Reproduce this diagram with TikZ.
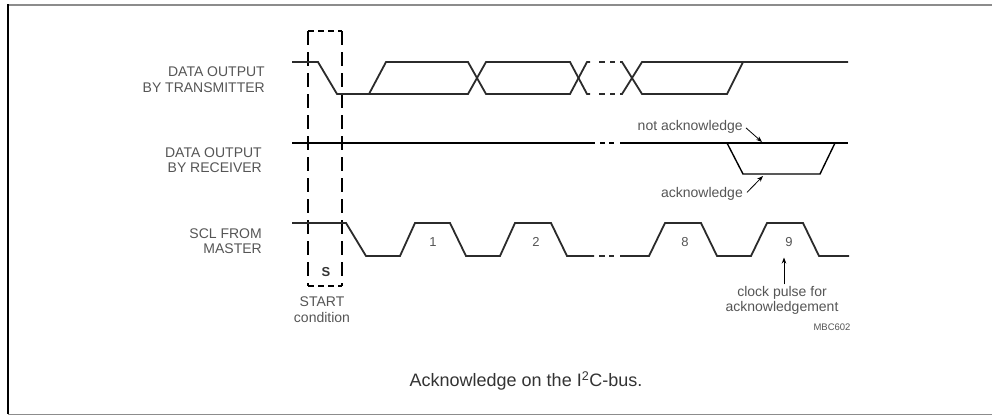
\documentclass[tikz,border=0pt]{standalone}
\usepackage{fontspec}
\setmainfont{Liberation Sans}
\usetikzlibrary{arrows.meta}
\definecolor{wave}{HTML}{2B2B2B}
\definecolor{lbl}{HTML}{555555}
\definecolor{captxt}{HTML}{333333}
\begin{document}
\begin{tikzpicture}[x=1pt,y=-1pt,
  wv/.style={line width=1.8pt, draw=wave, line join=miter},
  rx/.style={line width=1.4pt, draw=black, line join=miter},
  lab/.style={font=\fontsize{14}{16}\selectfont, text=lbl, inner sep=0pt},
  num/.style={font=\fontsize{13}{15}\selectfont, text=lbl, inner sep=0pt, anchor=base},
  ptr/.style={line width=0.8pt, draw=black, -{Stealth[length=6pt,width=4.5pt]}},
  sbox/.style={line width=1.2pt, draw=black}
]
\useasboundingbox (0,0) rectangle (992,415);
% frame
\draw[line width=2.4pt, draw=black!45] (8,5) -- (992,5);
\draw[line width=0.8pt, draw=black!45] (8,414) -- (992,414);
\draw[line width=1.6pt, draw=black] (8,4) -- (8,414);

% signal labels
\node[lab, anchor=base east] (tx1) at (265,76.7) {DATA OUTPUT};
\node[lab, anchor=base east] (tx2) at (265,92) {BY TRANSMITTER};
\node[lab, anchor=base east] (rx1) at (262,157) {DATA OUTPUT};
\node[lab, anchor=base east] (rx2) at (262,172) {BY RECEIVER};
\node[lab, anchor=base east] (scl1) at (262,238.3) {SCL FROM};
\node[lab, anchor=base east] (scl2) at (262,253.3) {MASTER};

% START box
\draw[sbox, dash pattern=on 6pt off 4pt] (308,31) -- (342,31);
\draw[sbox, dash pattern=on 6pt off 4pt] (308,286) -- (342,286);
\draw[sbox, dash pattern=on 14pt off 7pt] (308,31) -- (308,286);
\draw[sbox, dash pattern=on 14pt off 7pt] (342,31) -- (342,286);
\node[font=\bfseries\fontsize{13}{15}\selectfont, text=captxt, inner sep=0pt, anchor=base] (sS) at (326,276.7) {S};
\node[lab, anchor=base] (st1) at (322,306.7) {START};
\node[lab, anchor=base] (st2) at (322,322) {condition};

% data output by transmitter
\draw[wv] (292,62) -- (318,62) -- (337,94) -- (468,94) -- (486,62) -- (570,62) -- (587,94) -- (590,94);
\draw[wv] (369,94) -- (386,62) -- (468,62) -- (486,94) -- (570,94) -- (587,62) -- (590,62);
\draw[wv] (599,62) -- (605,62) (610,62) -- (615,62);
\draw[wv] (599,94) -- (605,94) (610,94) -- (615,94);
\draw[wv] (620,94) -- (622,94) -- (642,62) -- (848,62);
\draw[wv] (620,62) -- (622,62) -- (642,94) -- (727,94) -- (743,62);

% data output by receiver
\draw[rx] (292,143) -- (595,143);
\draw[rx] (600,143) -- (605,143) (609,143) -- (614,143);
\draw[rx] (620,143) -- (848,143);
\draw[rx] (727,143) -- (743,174) -- (820,174) -- (835,143);

% SCL
\draw[wv] (292,223) -- (346,223) -- (366,256) -- (400,256) -- (415,223) -- (450,223) -- (466,256) -- (500,256) -- (515,223) -- (551,223) -- (567,256) -- (594,256);
\draw[wv] (599,256) -- (605,256) (609,256) -- (614,256);
\draw[wv] (620,256) -- (649,256) -- (665,223) -- (701,223) -- (717,256) -- (751,256) -- (767,223) -- (803,223) -- (819,256) -- (849,256);
\node[num] (n1) at (433,246) {1};
\node[num] (n2) at (536,246) {2};
\node[num] (n8) at (685,246.5) {8};
\node[num] (n9) at (789,246.5) {9};

% acknowledge annotations
\node[lab, anchor=base east] (nack) at (743,130) {not acknowledge};
\coordinate (nackpt) at (762,142);
\draw[ptr] ([xshift=3pt,yshift=-1.5pt]nack.east) -- (nackpt);
\node[lab, anchor=base east] (ack) at (743,197.5) {acknowledge};
\coordinate (ackpt) at (763,176);
\draw[ptr] ([xshift=4pt,yshift=1.5pt]ack.east) -- (ackpt);

% clock pulse annotation
\node[lab, anchor=base] (cp1) at (782,296.7) {clock pulse for};
\node[lab, anchor=base] (cp2) at (782,311.7) {acknowledgement};
\coordinate (p9) at (784,257.5);
\draw[ptr] ([yshift=2pt]cp1.north -| p9) -- (p9);
\node[font=\fontsize{9.5}{11}\selectfont, text=lbl, inner sep=0pt, anchor=base] (mbc) at (832,330.7) {MBC602};

% caption
\node[font=\fontsize{18}{20}\selectfont, text=captxt, inner sep=0pt, anchor=base] (cap) at (526,386.7) {Acknowledge on the I\textsuperscript{2}C-bus.};
\end{tikzpicture}
\end{document}
